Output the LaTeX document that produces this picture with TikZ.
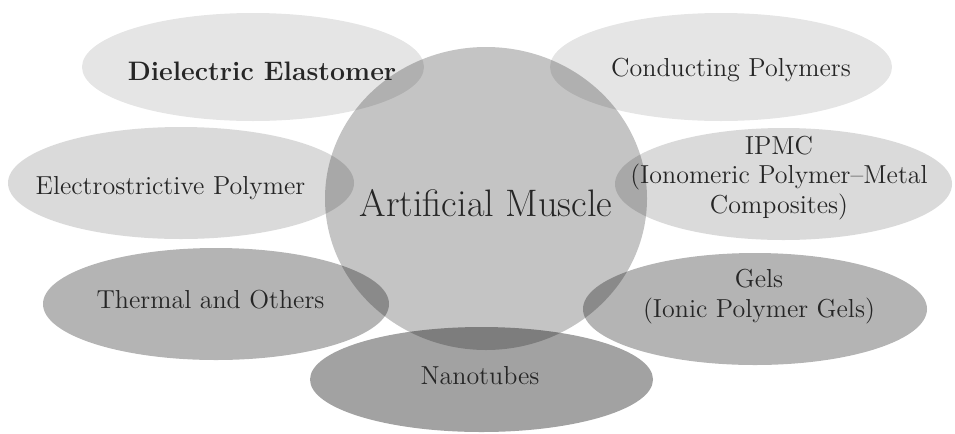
\documentclass[tikz,border=0pt]{standalone}
\usepackage{tikz}
\begin{document}
\begin{tikzpicture}[x=0.02cm, y=-0.02cm,
  blob/.style={fill=black, fill opacity=#1},
  lab/.style={font=\fontsize{14.8}{17}\selectfont, align=center, text=black!85},
  big/.style={font=\fontsize{21.8}{26}\selectfont, text=black!85}]
  \useasboundingbox (0,0) rectangle (955,433);
  % outer classes
  \foreach \cx/\cy/\rx/\ry/\op in {253/67/171/54/0.10, 721/67/171/54/0.10,
      181/183/173/56/0.145, 783.5/184/168.5/56/0.145,
      216/304/173/56/0.295, 755/309/172/56/0.295,
      481.5/379.5/171.5/52.5/0.365}
    \fill[blob=\op] (\cx,\cy) ellipse [x radius=\rx, y radius=\ry];
  % centre
  \fill[blob=0.23] (486,198.5) ellipse [x radius=161, y radius=151.5];
  % labels
  \node[lab, font=\fontsize{15.2}{17}\selectfont\bfseries, anchor=base] (diel) at (262,80) {Dielectric Elastomer};
  \node[lab, anchor=base] (cond) at (731,76) {Conducting Polymers};
  \node[lab, anchor=base] (elec) at (170.5,194) {Electrostrictive Polymer};
  \node[lab] (ipmc) at (779,178) {IPMC\\(Ionomeric Polymer--Metal\\Composites)};
  \node[big, anchor=base] (musc) at (486,216) {Artificial Muscle};
  \node[lab, anchor=base] (therm) at (210.5,308) {Thermal and Others};
  \node[lab] (gels) at (759,297) {Gels\\(Ionic Polymer Gels)};
  \node[lab, anchor=base] (nano) at (480,384) {Nanotubes};
\end{tikzpicture}
\end{document}
